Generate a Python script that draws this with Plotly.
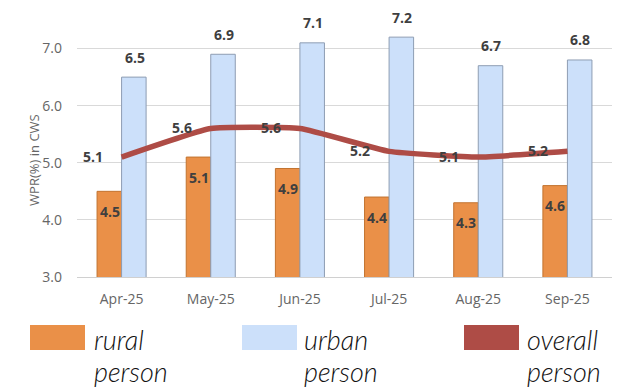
import plotly.graph_objects as go

months = ["Apr-25", "May-25", "Jun-25", "Jul-25", "Aug-25", "Sep-25"]
rural = [4.5, 5.1, 4.9, 4.4, 4.3, 4.6]
urban = [6.5, 6.9, 7.1, 7.2, 6.7, 6.8]
overall = [5.1, 5.6, 5.6, 5.2, 5.1, 5.2]
y_ticks = [3.0, 4.0, 5.0, 6.0, 7.0]
series_names = [("rural", "person"), ("urban", "person"), ("overall", "person")]

C_RURAL = "#EA9048"
C_URBAN = "#CCE0FA"
C_OVERALL = "#AE4C46"
LBL = "#3F3F3F"
TICK = "#666666"

fig = go.Figure()
fig.add_trace(go.Bar(x=months, y=rural, name="rural person",
                     marker=dict(color=C_RURAL, line=dict(color="#C27330", width=1))))
fig.add_trace(go.Bar(x=months, y=urban, name="urban person",
                     marker=dict(color=C_URBAN, line=dict(color="#8E9DB3", width=1))))
fig.add_trace(go.Scatter(x=months, y=overall, name="overall person", mode="lines",
                         line=dict(color=C_OVERALL, width=5.5, shape="spline", smoothing=0.4)))

ann = []
lab_font = dict(family="Open Sans", size=14, color=LBL)
for m, r, u, o in zip(months, rural, urban, overall):
    ann.append(dict(x=m, y=r, text="<b>%.1f</b>" % r, showarrow=False, xshift=-12, yshift=-20,
                    font=lab_font))
    ann.append(dict(x=m, y=u, text="<b>%.1f</b>" % u, showarrow=False, xshift=13, yshift=20,
                    font=lab_font))
    ann.append(dict(x=m, y=o, text="<b>%.1f</b>" % o, showarrow=False, xshift=-29, yshift=1,
                    font=lab_font))

# y axis title
ann.append(dict(xref="paper", yref="y", x=-0.101, y=5.05, text="WPR(%) in CWS", textangle=-90,
                showarrow=False, font=dict(family="Open Sans", size=13, color=TICK)))

# custom legend
colors = [C_RURAL, C_URBAN, C_OVERALL]
box_x = [30, 242, 464]
txt_x = [95, 305, 528]
W, H = 622, 389
L, R, T, B = 77, 10, 20, 112
pw = W - L - R
ph = H - T - B
def px(x):
    return (x - L) / pw
def py(y):
    return (H - B - y) / ph

shapes = []
for c, bx, tx, (l1, l2) in zip(colors, box_x, txt_x, series_names):
    shapes.append(dict(type="rect", xref="paper", yref="paper",
                       x0=px(bx), x1=px(bx + 55), y0=py(350), y1=py(325),
                       fillcolor=c, line=dict(width=0)))
    for line_txt, yc in ((l1, 339), (l2, 371)):
        ann.append(dict(xref="paper", yref="paper", x=px(tx - 3), y=py(yc), text="<i>%s</i>" % line_txt,
                        xanchor="left", yanchor="middle", showarrow=False,
                        font=dict(family="Lato", size=27, color="#111111", weight=300)))

fig.update_layout(
    width=W, height=H,
    margin=dict(l=L, r=R, t=T, b=B),
    paper_bgcolor="white", plot_bgcolor="white",
    barmode="group", bargap=0.45, bargroupgap=0,
    showlegend=False,
    annotations=ann, shapes=shapes,
    xaxis=dict(showgrid=False, showline=True, linecolor="#D0D0D0", ticks="",
               ticklabelstandoff=9, tickfont=dict(family="Open Sans", size=14, color=TICK)),
    yaxis=dict(range=[3, 7.5], tickvals=y_ticks, ticktext=["%.1f" % v for v in y_ticks],
               showgrid=True, gridcolor="#D9D9D9", gridwidth=1, zeroline=False, showline=False,
               ticks="", ticklabelstandoff=14,
               tickfont=dict(family="Open Sans", size=14, color=TICK)),
)
fig.update_traces(cliponaxis=False, selector=dict(type="bar"))
fig.write_html("out.html")
